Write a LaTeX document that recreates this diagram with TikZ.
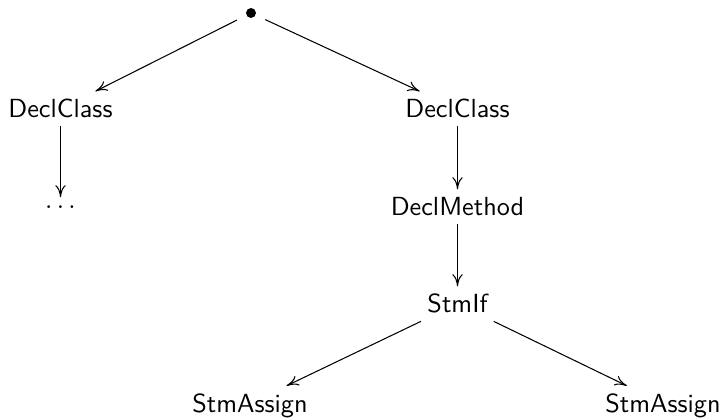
\documentclass[tikz,border=0pt]{standalone}
\usetikzlibrary{arrows.meta}
\renewcommand{\familydefault}{\sfdefault}
\begin{document}
\begin{tikzpicture}[
  x={(0.3817pt,0)}, y={(0,-0.3817pt)},
  term/.style={anchor=base, inner sep=3pt, text height=7pt, text depth=0pt, font=\sffamily},
  more/.style={anchor=base, inner sep=3pt, text height=1.1pt, text depth=0pt},
  rootdot/.style={circle, inner sep=0pt, minimum size=11.6pt,
    path picture={\fill (path picture bounding box.center) circle (1.9pt);}},
  edge/.style={line width=0.4pt, -{To[length=4.6pt, width=4pt]}}
]
\useasboundingbox (0,0) rectangle (724,418);

% the tree
\node[rootdot] (root) at (251,13) {};
\node[term] (c1) at (60.5,118)  {DeclClass};
\node[term] (c2) at (457.5,118) {DeclClass};
\node[more] (dots) at (60.5,208.5) {$\ldots$};
\node[term] (m)  at (457.5,216) {DeclMethod};
\node[term] (if) at (457.5,313) {StmIf};
\node[term] (a1) at (250,412.5) {StmAssign};
\node[term] (a2) at (663,412.5) {StmAssign};

% branches
\draw[edge] (root) -- (c1);
\draw[edge] (root) -- (c2);
\draw[edge] (c1) -- (dots);
\draw[edge] (c2) -- (m);
\draw[edge] (m) -- (if);
\draw[edge] (if) -- (a1);
\draw[edge] (if) -- (a2);
\end{tikzpicture}
\end{document}
